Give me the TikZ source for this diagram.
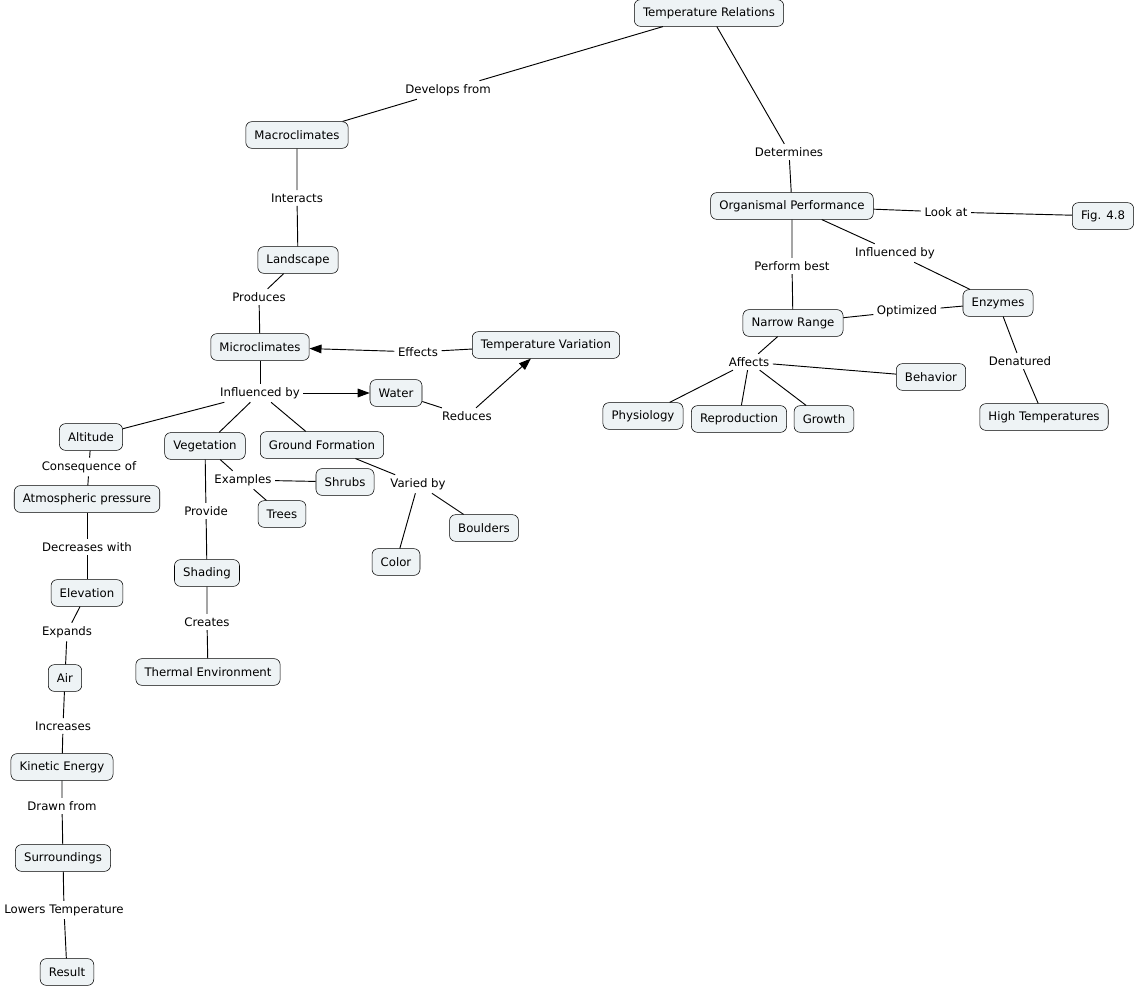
\documentclass[tikz,border=0pt]{standalone}
\usepackage{fontspec}
\setmainfont{DejaVu Sans}
\usetikzlibrary{arrows.meta}
\definecolor{cfill}{RGB}{238,243,245}

\begin{document}
\begin{tikzpicture}[x=0.75pt, y=-0.75pt, font=\fontsize{8.8}{10}\selectfont,
    >={Triangle[length=9pt, width=6.5pt]},
    concept/.style={draw, rounded corners=4.5pt, fill=cfill, minimum height=20pt, inner xsep=6.5pt, inner ysep=2pt},
    lnk/.style={inner sep=2.5pt},
    conn/.style={line width=0.7pt}]
  \fill[white] (0,0) rectangle (1136,988);
  \useasboundingbox (0,0) rectangle (1136,988);

  % ---------------- concepts ----------------
  \node[concept] (trel) at (709,13) {Temperature Relations};
  \node[concept] (macro) at (297,135) {Macroclimates};
  \node[concept] (land) at (298,260) {Landscape};
  \node[concept] (micro) at (260,347) {Microclimates};
  \node[concept] (tvar) at (546,345) {Temperature Variation};
  \node[concept] (water) at (396,393) {Water};
  \node[concept] (alt) at (91,437) {Altitude};
  \node[concept] (veg) at (205,446) {Vegetation};
  \node[concept] (ground) at (322,445) {Ground Formation};
  \node[concept] (atm) at (87,499) {Atmospheric pressure};
  \node[concept] (shrubs) at (345,482) {Shrubs};
  \node[concept] (trees) at (282,514) {Trees};
  \node[concept] (boulders) at (484,528) {Boulders};
  \node[concept] (color) at (396,562) {Color};
  \node[concept] (elev) at (87,593) {Elevation};
  \node[concept] (shading) at (207,573) {Shading};
  \node[concept] (thermal) at (208,672) {Thermal Environment};
  \node[concept] (air) at (65,678) {Air};
  \node[concept] (kin) at (62,767) {Kinetic Energy};
  \node[concept] (surr) at (63,858) {Surroundings};
  \node[concept] (result) at (67,972) {Result};
  \node[concept] (perf) at (792,206) {Organismal Performance};
  \node[concept] (fig) at (1103,216) {Fig. 4.8};
  \node[concept] (enz) at (998,303) {Enzymes};
  \node[concept] (narrow) at (793,323) {Narrow Range};
  \node[concept] (behav) at (931,377) {Behavior};
  \node[concept] (phys) at (643,416) {Physiology};
  \node[concept] (repro) at (739,419) {Reproduction};
  \node[concept] (growth) at (824,419) {Growth};
  \node[concept] (hight) at (1044,417) {High Temperatures};

  % ---------------- linking phrases ----------------
  \node[lnk] (devfrom) at (448,90) {Develops from};
  \node[lnk] (determ) at (789,152) {Determines};
  \node[lnk] (interacts) at (297,198) {Interacts};
  \node[lnk] (produces) at (259,297) {Produces};
  \node[lnk] (effects) at (418,352) {Effects};
  \node[lnk] (inflA) at (260,393) {Influenced by};
  \node[lnk] (reduces) at (467,416) {Reduces};
  \node[lnk] (conseq) at (89,467) {Consequence of};
  \node[lnk] (examples) at (243,480) {Examples};
  \node[lnk] (provide) at (206,511) {Provide};
  \node[lnk] (variedby) at (418,484) {Varied by};
  \node[lnk] (decr) at (87,547) {Decreases with};
  \node[lnk] (creates) at (207,622) {Creates};
  \node[lnk] (expands) at (67,632) {Expands};
  \node[lnk] (incr) at (63,726) {Increases};
  \node[lnk] (drawn) at (62,806) {Drawn from};
  \node[lnk] (lowers) at (64,910) {Lowers Temperature};
  \node[lnk] (lookat) at (946,212) {Look at};
  \node[lnk] (best) at (792,266) {Perform best};
  \node[lnk] (inflB) at (895,253) {Influenced by};
  \node[lnk] (optim) at (907,311) {Optimized};
  \node[lnk] (denat) at (1020,361) {Denatured};
  \node[lnk] (affects) at (749,362) {Affects};

  % ---------------- connectors, left ----------------
  \draw[conn] (trel) -- (devfrom) -- (macro);
  \draw[conn] (macro) -- (interacts) -- (land);
  \draw[conn] (land) -- (produces) -- (micro);
  \draw[conn, ->] (tvar) -- (effects) -- (micro);
  \draw[conn] (micro) -- (inflA);
  \draw[conn, ->] (inflA) -- (water);
  \draw[conn] (inflA) -- (alt);
  \draw[conn] (inflA) -- (veg);
  \draw[conn] (inflA) -- (ground);
  \draw[conn, ->] (water) -- (reduces) -- (tvar);
  \draw[conn] (alt) -- (conseq) -- (atm);
  \draw[conn] (atm) -- (decr) -- (elev);
  \draw[conn] (elev) -- (expands) -- (air);
  \draw[conn] (air) -- (incr) -- (kin);
  \draw[conn] (kin) -- (drawn) -- (surr);
  \draw[conn] (surr) -- (lowers) -- (result);
  \draw[conn] (veg) -- (examples) -- (shrubs);
  \draw[conn] (examples) -- (trees);
  \draw[conn] (veg) -- (provide) -- (shading);
  \draw[conn] (shading) -- (creates) -- (thermal);
  \draw[conn] (ground) -- (variedby) -- (boulders);
  \draw[conn] (variedby) -- (color);

  % ---------------- connectors, right ----------------
  \draw[conn] (trel) -- (determ) -- (perf);
  \draw[conn] (perf) -- (lookat) -- (fig);
  \draw[conn] (perf) -- (best) -- (narrow);
  \draw[conn] (perf) -- (inflB) -- (enz);
  \draw[conn] (enz) -- (optim) -- (narrow);
  \draw[conn] (enz) -- (denat) -- (hight);
  \draw[conn] (narrow) -- (affects);
  \draw[conn] (affects) -- (phys);
  \draw[conn] (affects) -- (repro);
  \draw[conn] (affects) -- (growth);
  \draw[conn] (affects) -- (behav);
\end{tikzpicture}
\end{document}
